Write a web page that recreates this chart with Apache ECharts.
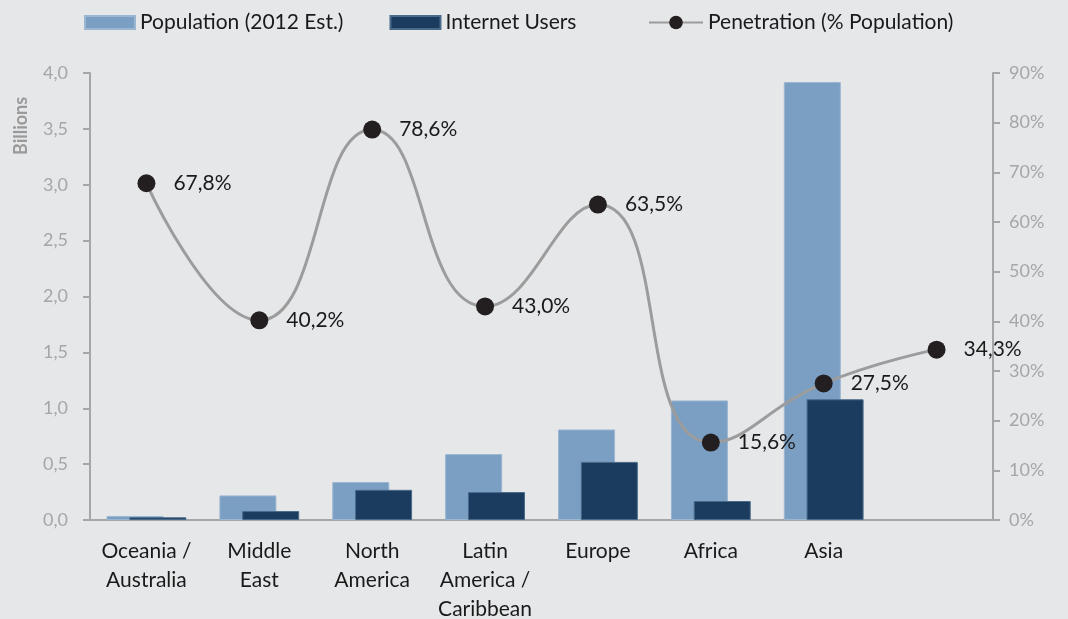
<!DOCTYPE html>
<html>
<head>
<meta charset="utf-8">
<script src="https://cdn.jsdelivr.net/npm/echarts@6/dist/echarts.min.js"></script>
<style>
  html, body { margin: 0; padding: 0; background: #e6e7e9; }
  #chart { width: 1068px; height: 619px; }
</style>
</head>
<body>
<div id="chart"></div>
<script>
const regions = ['Oceania /\nAustralia', 'Middle\nEast', 'North\nAmerica', 'Latin\nAmerica /\nCaribbean', 'Europe', 'Africa', 'Asia', ''];
const population = [0.036, 0.22, 0.34, 0.59, 0.81, 1.07, 3.92, null];
const internetUsers = [0.024, 0.08, 0.27, 0.25, 0.52, 0.17, 1.08, null];
const penetration = [67.8, 40.2, 78.6, 43.0, 63.5, 15.6, 27.5, 34.3];

const font = 'Lato';
const grey = '#a6a6a6';
const dark = '#1a1a1a';

const chart = echarts.init(document.getElementById('chart'));

const legendText = { fontSize: 21, color: dark, fontFamily: font };

chart.setOption({
  backgroundColor: '#e6e7e9',
  textStyle: { fontFamily: font },
  legend: [
    {
      left: 79,
      top: 7,
      itemWidth: 50,
      itemHeight: 13,
      itemGap: 46,
      textStyle: legendText,
      data: [
        { name: 'Population (2012 Est.)', icon: 'rect' },
        { name: 'Internet Users', icon: 'rect' }
      ]
    },
    {
      left: 643,
      top: 7,
      itemWidth: 54,
      itemHeight: 17,
      textStyle: legendText,
      data: ['Penetration (% Population)']
    }
  ],
  graphic: [{
    type: 'text',
    x: 12,
    y: 155,
    rotation: Math.PI / 2,
    style: { text: 'Billions', fill: '#9a9a9a', font: 'bold 18px Lato' }
  }],
  grid: { left: 90, right: 75, top: 73, bottom: 99, outerBoundsMode: 'none' },
  xAxis: {
    type: 'category',
    data: regions,
    axisLine: { lineStyle: { color: grey, width: 2 } },
    axisTick: { length: 8, lineStyle: { color: grey, width: 2 } },
    axisLabel: { color: dark, fontSize: 21, lineHeight: 29, margin: 17, interval: 0 }
  },
  yAxis: [
    {
      type: 'value',
      min: 0, max: 4, interval: 0.5,
      splitLine: { show: false },
      axisLine: { show: true, lineStyle: { color: grey, width: 2 } },
      axisTick: { show: true, length: 7, lineStyle: { color: grey, width: 2 } },
      axisLabel: {
        color: grey, fontSize: 18, margin: 22,
        formatter: v => v.toFixed(1).replace('.', ',')
      }
    },
    {
      type: 'value',
      min: 0, max: 90, interval: 10,
      splitLine: { show: false },
      axisLine: { show: true, lineStyle: { color: grey, width: 2 } },
      axisTick: { show: true, length: 7, lineStyle: { color: grey, width: 2 } },
      axisLabel: { color: grey, fontSize: 18, margin: 16, formatter: '{value}%' }
    }
  ],
  series: [
    {
      name: 'Population (2012 Est.)',
      type: 'bar',
      data: population,
      barWidth: 57,
      barGap: '-60%',
      itemStyle: { color: '#7b9fc2', borderColor: '#9bb6d1', borderWidth: 1 }
    },
    {
      name: 'Internet Users',
      type: 'bar',
      data: internetUsers,
      barWidth: 57,
      barGap: '-60%',
      itemStyle: { color: '#1b3c5e', borderColor: '#4a6a8a', borderWidth: 1 }
    },
    {
      name: 'Penetration (% Population)',
      type: 'line',
      yAxisIndex: 1,
      data: penetration,
      smooth: 0.5,
      symbol: 'circle',
      symbolSize: 18,
      lineStyle: { color: '#9c9c9c', width: 3 },
      itemStyle: { color: '#231f20' },
      label: {
        show: true,
        position: 'right',
        distance: 18,
        fontSize: 21,
        color: dark,
        formatter: p => p.value.toFixed(1).replace('.', ',') + '%'
      },
      z: 5
    }
  ]
});
</script>
</body>
</html>
